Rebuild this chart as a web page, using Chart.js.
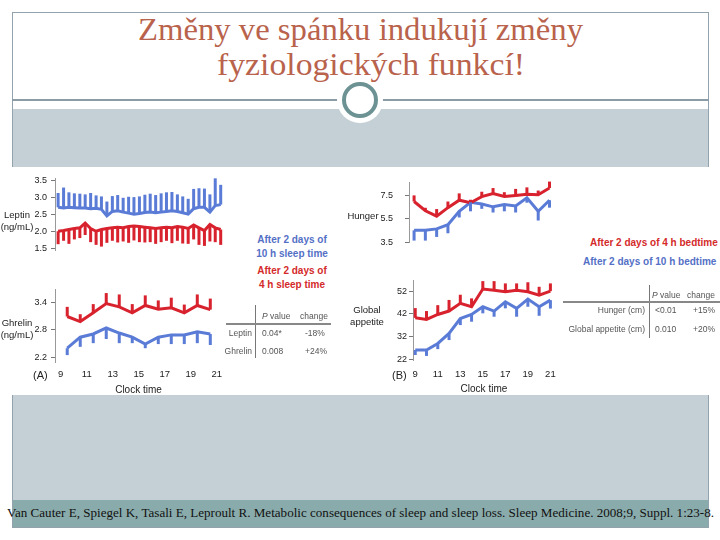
<!DOCTYPE html>
<html lang="cs">
<head>
<meta charset="utf-8">
<title>Změny ve spánku indukují změny fyziologických funkcí</title>
<script src="https://cdn.jsdelivr.net/npm/chart.js@4.4.1/dist/chart.umd.min.js"></script>
<style>
html, body { margin: 0; padding: 0; }
body { width: 720px; height: 540px; position: relative; overflow: hidden; background: #fff;
       font-family: "Liberation Sans", Arial, sans-serif; }
.abs { position: absolute; }
.fit { position: absolute; white-space: nowrap; transform-origin: 0 0; }
.title { font-family: "Liberation Serif", serif; font-size: 31px; line-height: 31px; color: #b9624c; }
.cite { font-family: "Liberation Serif", serif; font-size: 13px; line-height: 16px; color: #111; }
.lab { position: absolute; font-size: 9.5px; line-height: 12px; color: #222; white-space: nowrap; text-align: center; }
.leg { position: absolute; font-size: 10px; line-height: 12px; font-weight: bold; white-space: nowrap; }
.tb { position: absolute; font-size: 8.5px; line-height: 10px; color: #555; white-space: nowrap; }
.box { position: absolute; }
</style>
</head>
<body>
<!-- cadre de la diapositive -->
<div class="abs" style="left:12px;top:12px;width:695px;height:514px;border:1px solid #93a3ad;"></div>
<div class="abs" style="left:12px;top:99px;width:697px;height:2px;background:#8c9ca7;"></div>
<div class="abs" style="left:13px;top:109px;width:695px;height:391px;background:#c5d0d6;"></div>
<div class="abs" style="left:13px;top:500px;width:695px;height:27px;background:#8aabab;"></div>
<div class="abs" style="left:337px;top:77px;width:46px;height:46px;border-radius:50%;background:#fff;"></div>
<div class="abs" style="left:342px;top:82px;width:28px;height:28px;border-radius:50%;border:4px solid #6d9294;"></div>

<div class="fit title" data-w="445" style="left:138px;top:14px;">Změny ve spánku indukují změny</div>
<div class="fit title" data-w="308" style="left:217px;top:49px;">fyziologických funkcí!</div>

<!-- zone blanche de la figure -->
<div class="abs" style="left:0;top:167px;width:720px;height:228px;background:#fff;"></div>

<div class="box" style="left:0;top:165px;width:230px;height:95px;"><canvas id="g_leptin"></canvas></div>
<div class="box" style="left:0;top:280px;width:230px;height:120px;"><canvas id="g_ghrelin"></canvas></div>
<div class="box" style="left:340px;top:165px;width:225px;height:95px;"><canvas id="g_hunger"></canvas></div>
<div class="box" style="left:340px;top:270px;width:225px;height:130px;"><canvas id="g_appetite"></canvas></div>

<!-- titres des axes -->
<div class="lab" style="left:0;top:209px;width:34px;">Leptin<br>(ng/mL)</div>
<div class="lab" style="left:0;top:317px;width:34px;">Ghrelin<br>(ng/mL)</div>
<div class="lab" style="left:344px;top:210px;width:38px;">Hunger</div>
<div class="lab" style="left:347px;top:304px;width:40px;">Global<br>appetite</div>
<div class="lab" style="left:33px;top:369px;font-size:11px;">(A)</div>
<div class="lab" style="left:392px;top:369px;font-size:11px;">(B)</div>

<!-- legendes -->
<div class="leg" style="left:252px;top:233px;width:80px;text-align:center;color:#5470c6;line-height:14px;">After 2 days of<br>10 h sleep time</div>
<div class="leg" style="left:252px;top:264px;width:80px;text-align:center;color:#d42a2a;line-height:14px;">After 2 days of<br>4 h sleep time</div>
<div class="leg" style="left:590px;top:237px;color:#d42a2a;">After 2 days of 4 h bedtime</div>
<div class="leg" style="left:583px;top:256px;color:#5470c6;">After 2 days of 10 h bedtime</div>

<!-- tableau A -->
<div class="abs" style="left:255px;top:305px;width:1px;height:53px;background:#777;"></div>
<div class="abs" style="left:226px;top:323px;width:105px;height:2px;background:#888;"></div>
<div class="tb" style="left:262px;top:311px;"><i>P</i> value</div>
<div class="tb" style="left:300px;top:311px;">change</div>
<div class="tb" style="left:212px;top:328px;width:40px;text-align:right;">Leptin</div>
<div class="tb" style="left:262px;top:328px;">0.04*</div>
<div class="tb" style="left:305px;top:328px;">-18%</div>
<div class="tb" style="left:212px;top:346px;width:40px;text-align:right;">Ghrelin</div>
<div class="tb" style="left:262px;top:346px;">0.008</div>
<div class="tb" style="left:305px;top:346px;">+24%</div>

<!-- tableau B -->
<div class="abs" style="left:649px;top:285px;width:1px;height:53px;background:#777;"></div>
<div class="abs" style="left:563px;top:301px;width:157px;height:2px;background:#888;"></div>
<div class="tb" style="left:652px;top:290px;"><i>P</i> value</div>
<div class="tb" style="left:687px;top:290px;">change</div>
<div class="tb" style="left:560px;top:305px;width:85px;text-align:right;">Hunger (cm)</div>
<div class="tb" style="left:655px;top:305px;">&lt;0.01</div>
<div class="tb" style="left:693px;top:305px;">+15%</div>
<div class="tb" style="left:555px;top:324px;width:90px;text-align:right;">Global appetite (cm)</div>
<div class="tb" style="left:655px;top:324px;">0.010</div>
<div class="tb" style="left:693px;top:324px;">+20%</div>

<div class="fit cite" data-w="707" style="left:7px;top:505px;">Van Cauter E, Spiegel K, Tasali E, Leproult R. Metabolic consequences of sleep and sleep loss. Sleep Medicine. 2008;9, Suppl. 1:23-8.</div>

<script>
//Les donnees
const xTicks = [9, 11, 13, 15, 17, 19, 21];

//(A) Leptine, prelevements toutes les ~25 min
const leptinTime = [8.80, 9.22, 9.63, 10.05, 10.47, 10.88, 11.30, 11.72, 12.13, 12.55, 12.97, 13.38, 13.80, 14.22, 14.63, 15.05,
                    15.47, 15.88, 16.30, 16.72, 17.13, 17.55, 17.97, 18.38, 18.80, 19.22, 19.63, 20.05, 20.47, 20.88, 21.30];
const leptin10h = [2.70, 2.68, 2.70, 2.69, 2.68, 2.68, 2.66, 2.67, 2.64, 2.45, 2.58, 2.60, 2.56, 2.53, 2.50, 2.52,
                   2.55, 2.56, 2.54, 2.56, 2.58, 2.60, 2.58, 2.54, 2.50, 2.66, 2.70, 2.70, 2.56, 2.75, 2.78];
const leptin10hErr = [0.42, 0.60, 0.44, 0.42, 0.42, 0.40, 0.46, 0.38, 0.38, 0.42, 0.45, 0.46, 0.42, 0.48, 0.50, 0.50,
                      0.52, 0.54, 0.52, 0.55, 0.56, 0.55, 0.50, 0.48, 0.45, 0.58, 0.56, 0.55, 0.52, 0.80, 0.58];
const leptin4h = [2.00, 2.02, 2.05, 2.08, 2.10, 2.24, 2.08, 2.00, 2.05, 2.08, 2.10, 2.12, 2.10, 2.14, 2.15, 2.14,
                  2.12, 2.10, 2.08, 2.10, 2.12, 2.10, 2.14, 2.12, 2.08, 2.18, 2.10, 2.02, 2.20, 2.10, 2.05];
const leptin4hErr = [0.38, 0.30, 0.42, 0.32, 0.30, 0.35, 0.40, 0.40, 0.50, 0.42, 0.38, 0.45, 0.40, 0.48, 0.42, 0.46,
                     0.45, 0.42, 0.45, 0.42, 0.40, 0.45, 0.42, 0.48, 0.45, 0.42, 0.50, 0.45, 0.50, 0.42, 0.45];
const leptinTicks = [1.5, 2.0, 2.5, 3.0, 3.5];

//(A) Ghreline, toutes les heures
const ghrelinTime = [9.5, 10.5, 11.5, 12.5, 13.5, 14.5, 15.5, 16.5, 17.5, 18.5, 19.5, 20.5];
const ghrelin4h = [3.09, 2.98, 3.17, 3.37, 3.30, 3.17, 3.33, 3.25, 3.28, 3.17, 3.33, 3.24];
const ghrelin4hErr = [0.21, 0.16, 0.19, 0.23, 0.27, 0.19, 0.22, 0.19, 0.22, 0.18, 0.24, 0.24];
const ghrelin10h = [2.40, 2.64, 2.71, 2.84, 2.73, 2.64, 2.49, 2.64, 2.69, 2.69, 2.76, 2.71];
const ghrelin10hErr = [0.15, 0.21, 0.20, 0.24, 0.22, 0.13, 0.09, 0.15, 0.20, 0.20, 0.25, 0.24];
const ghrelinTicks = [2.2, 2.8, 3.4];

//(B) Faim et appetit global
const hourTime = [9, 10, 11, 12, 13, 14, 15, 16, 17, 18, 19, 20, 21];
const hunger4h = [6.98, 6.20, 5.74, 6.46, 7.09, 6.88, 7.40, 7.65, 7.40, 7.50, 7.60, 7.56, 8.12];
const hunger4hErr = [0.52, 0.25, 0.60, 0.52, 0.58, 0.25, 0.41, 0.47, 0.37, 0.55, 0.58, 0.35, 0.55];
const hunger10h = [4.54, 4.54, 4.66, 5.01, 6.15, 6.92, 6.77, 6.53, 6.73, 6.61, 7.29, 6.15, 7.09];
const hunger10hErr = [0.87, 0.87, 0.68, 0.72, 0.52, 0.77, 0.41, 0.48, 0.58, 0.56, 0.41, 0.78, 0.63];
const hungerTicks = [3.5, 5.5, 7.5];

const appetite4h = [40.2, 39.5, 41.7, 43.2, 46.6, 45.1, 52.9, 52.4, 51.7, 52.4, 51.7, 50.2, 52.0];
const appetite4hErr = [4.3, 3.7, 4.1, 4.9, 3.8, 3.7, 3.5, 4.0, 3.7, 3.0, 4.2, 3.7, 3.4];
const appetite10h = [26.0, 26.0, 28.9, 33.3, 39.9, 41.7, 45.1, 43.2, 47.3, 44.4, 48.5, 45.1, 48.0];
const appetite10hErr = [2.2, 2.6, 2.5, 2.9, 2.9, 3.2, 2.9, 2.5, 2.9, 3.7, 3.4, 4.0, 3.7];
const appetiteTicks = [22, 32, 42, 52];

const RED = '#d8222e';
const BLUE = '#5a7bd6';

//plugin qui dessine les barres d'erreur (vers le haut ou vers le bas)
const errorBars = {
    id: 'errorBars',
    afterDatasetsDraw(chart) {
        let ctx = chart.ctx;
        let yScale = chart.scales.y;
        chart.data.datasets.forEach((ds, i) => {
            let meta = chart.getDatasetMeta(i);
            ctx.save();
            ctx.strokeStyle = ds.borderColor;
            ctx.lineWidth = ds.borderWidth;
            meta.data.forEach((pt, j) => {
                let end = yScale.getPixelForValue(ds.data[j].y + ds.errDir * ds.errors[j]);
                ctx.beginPath();
                ctx.moveTo(pt.x, pt.y);
                ctx.lineTo(pt.x, end);
                ctx.stroke();
            });
            ctx.restore();
        });
    }
};

//fonction qui cree un panneau
function makePanel(id, cfg) {
    let context = document.getElementById(id).getContext('2d');
    let datasets = cfg.series.map(s => ({
        data: s.x.map((t, i) => ({ x: t, y: s.y[i] })),
        errors: s.err,
        errDir: s.dir,
        borderColor: s.color,
        borderWidth: 3,
        pointRadius: 0,
        tension: 0,
        fill: false
    }));
    let xAxis = {
        type: 'linear', min: cfg.xMin, max: 21.4, display: cfg.showX,
        afterBuildTicks: s => { s.ticks = xTicks.map(v => ({ value: v })); },
        grid: { display: true, drawOnChartArea: false, drawTicks: false, color: 'transparent' },
        border: { display: false },
        ticks: { padding: cfg.xPad, color: '#222', font: { size: 9.5 }, maxRotation: 0, autoSkip: false },
        title: { display: true, text: 'Clock time', color: '#222', font: { size: 10 }, padding: { top: 0, bottom: cfg.titlePad } }
    };
    //la hauteur de l'axe x seulement quand il est affiche
    if (cfg.showX) {
        xAxis.afterFit = s => { s.height = 35; };
    }
    let options = {
        responsive: true,
        maintainAspectRatio: false,
        animation: false,
        layout: { padding: cfg.padding },
        plugins: { legend: { display: false }, tooltip: { enabled: false } },
        scales: {
            x: xAxis,
            y: {
                type: 'linear', min: cfg.yMin, max: cfg.yMax,
                afterBuildTicks: s => { s.ticks = cfg.yTicks.map(v => ({ value: v })); },
                afterFit: s => { s.width = cfg.yWidth; },
                grid: { drawOnChartArea: false, tickLength: 4, color: '#777' },
                border: { display: true, color: '#999' },
                ticks: { padding: cfg.yPad, color: '#222', font: { size: 9 }, callback: v => v.toFixed(cfg.dec) }
            }
        }
    };
    return new Chart(context, { type: 'line', data: { datasets: datasets }, options: options, plugins: [errorBars] });
}

function fitText() {
    document.querySelectorAll('[data-w]').forEach(el => {
        let natural = el.getBoundingClientRect().width;
        el.style.transform = 'scaleX(' + (parseFloat(el.dataset.w) / natural) + ')';
    });
}

window.addEventListener('load', () => {
    fitText();
    makePanel('g_leptin', {
        series: [
            { x: leptinTime, y: leptin10h, err: leptin10hErr, dir: 1, color: BLUE },
            { x: leptinTime, y: leptin4h, err: leptin4hErr, dir: -1, color: RED }
        ],
        padding: { left: 0, right: 8, top: 13, bottom: 10 },
        xMin: 8.56, showX: false, yMin: 1.45, yMax: 3.56, yTicks: leptinTicks, dec: 1, yWidth: 55, yPad: 4
    });
    makePanel('g_ghrelin', {
        series: [
            { x: ghrelinTime, y: ghrelin4h, err: ghrelin4hErr, dir: 1, color: RED },
            { x: ghrelinTime, y: ghrelin10h, err: ghrelin10hErr, dir: -1, color: BLUE }
        ],
        padding: { left: 0, right: 8, top: 9, bottom: 3 },
        xMin: 8.56, showX: true, xPad: 7, titlePad: 1, yMin: 2.1, yMax: 3.68, yTicks: ghrelinTicks, dec: 1, yWidth: 55, yPad: 4
    });
    makePanel('g_hunger', {
        series: [
            { x: hourTime, y: hunger4h, err: hunger4hErr, dir: 1, color: RED },
            { x: hourTime, y: hunger10h, err: hunger10hErr, dir: -1, color: BLUE }
        ],
        padding: { left: 0, right: 11, top: 7, bottom: 6 },
        xMin: 8.55, showX: false, yMin: 3.5, yMax: 8.6, yTicks: hungerTicks, dec: 1, yWidth: 69, yPad: 12
    });
    makePanel('g_appetite', {
        series: [
            { x: hourTime, y: appetite4h, err: appetite4hErr, dir: 1, color: RED },
            { x: hourTime, y: appetite10h, err: appetite10hErr, dir: -1, color: BLUE }
        ],
        padding: { left: 0, right: 10, top: 10, bottom: 5 },
        xMin: 8.8, showX: true, xPad: 9, titlePad: 0, yMin: 21.6, yMax: 56.9, yTicks: appetiteTicks, dec: 0, yWidth: 73, yPad: 2
    });
});
</script>
</body>
</html>
